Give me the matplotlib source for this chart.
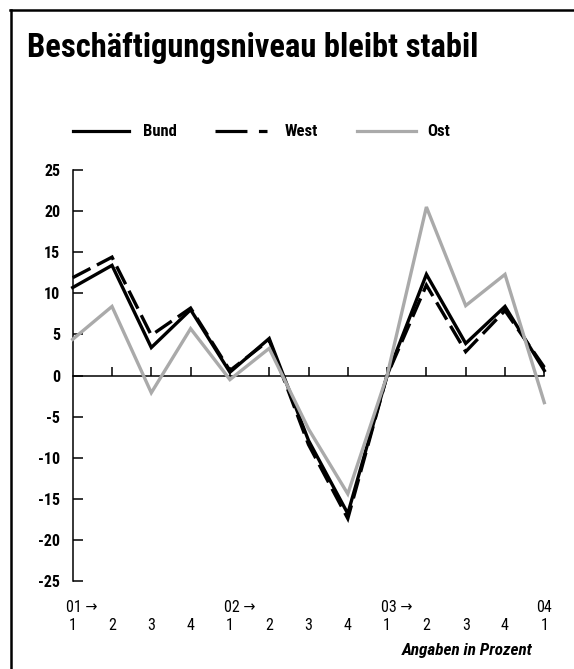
import matplotlib
matplotlib.use("Agg")
import matplotlib.pyplot as plt
import matplotlib.transforms as mtransforms
from matplotlib.lines import Line2D
from matplotlib import font_manager

# pick the narrowest installed sans family
installed = {f.name for f in font_manager.fontManager.ttflist}
family = 'Liberation Sans'
for cand in ['Liberation Sans Narrow', 'Roboto Condensed', 'DejaVu Sans Condensed',
             'Open Sans Condensed', 'Liberation Sans']:
    if cand in installed:
        family = cand
        break
plt.rcParams['font.family'] = [family, 'DejaVu Sans']
plt.rcParams['font.stretch'] = 'condensed'

# data (Veränderung in Prozent, Quartale 2001/1 - 2004/1)
quarters = ['1', '2', '3', '4', '1', '2', '3', '4', '1', '2', '3', '4', '1']
years = ['01 \u2192', '02 \u2192', '03 \u2192', '04']
year_pos = [0, 4, 8, 12]
bund = [10.7, 13.4, 3.4, 8.0, 0.4, 4.5, -7.9, -16.8, 0.0, 12.3, 3.9, 8.4, 0.6]
west = [11.9, 14.4, 4.9, 8.2, 0.6, 4.3, -8.4, -17.4, 0.0, 11.0, 2.9, 7.9, 1.0]
ost = [4.4, 8.4, -2.1, 5.7, -0.5, 3.3, -6.5, -14.4, 0.0, 20.5, 8.5, 12.3, -3.3]
yticks = [25, 20, 15, 10, 5, 0, -5, -10, -15, -20, -25]

W, H = 574, 669
fig = plt.figure(figsize=(W / 100, H / 100), dpi=100)

def fx(px):
    return px / W

def fy(py):
    return 1 - py / H

# frame
fig.add_artist(Line2D([fx(11), fx(11)], [fy(10), 0], color='black', lw=1.8))
fig.add_artist(Line2D([fx(10), 1], [fy(10), fy(10)], color='black', lw=1.8))

# title, sized to the reference width
title = fig.text(fx(27), fy(57), 'Beschäftigungsniveau bleibt stabil', fontsize=24,
                 fontweight='bold', va='baseline', ha='left')
fig.canvas.draw()
tw = title.get_window_extent().width
title.set_fontsize(min(27, 24 * 453 / tw))

# legend
ly = fy(131)
fig.add_artist(Line2D([fx(73), fx(129)], [ly, ly], color='black', lw=2.3))
fig.add_artist(Line2D([fx(215), fx(267)], [ly, ly], color='black', lw=2.3,
                      dashes=(10, 3.6)))
fig.add_artist(Line2D([fx(357), fx(416)], [ly, ly], color='#aaaaaa', lw=2.3))
for x, lab in [(143, 'Bund'), (285, 'West'), (427, 'Ost')]:
    fig.text(fx(x), ly, lab, fontsize=12, fontweight='bold', va='center', ha='left')

# axes
ax = fig.add_axes([fx(72.7), fy(581), fx(544.3) - fx(72.7), fy(170) - fy(581)])
ax.set_xlim(0, 12)
ax.set_ylim(-25, 25)
x = list(range(len(quarters)))
ax.plot(x, west, color='black', lw=2.4, dashes=(6, 2.2), dash_joinstyle='miter',
        clip_on=False, zorder=3)
ax.plot(x, bund, color='black', lw=2.4, solid_joinstyle='miter', clip_on=False, zorder=4)
ax.plot(x, ost, color='#aaaaaa', lw=2.4, solid_joinstyle='miter', clip_on=False, zorder=5)

for s in ['top', 'right']:
    ax.spines[s].set_visible(False)
ax.spines['bottom'].set_position(('data', 0))
ax.spines['left'].set_linewidth(1.1)
ax.spines['bottom'].set_linewidth(1.1)
ax.set_yticks(yticks)
ax.set_yticklabels([str(v) for v in yticks], fontsize=11.5, fontweight='bold')
ax.tick_params(axis='y', direction='in', length=7.5, width=1.1, pad=9)
ax.set_xticks(x[1:])
ax.set_xticklabels([])
ax.tick_params(axis='x', direction='in', length=6.5, width=1.1)

# x labels below the plot
trans = mtransforms.blended_transform_factory(ax.transData, fig.transFigure)
for i, q in enumerate(quarters):
    ax.text(i, fy(626), q, transform=trans, fontsize=11.5, ha='center', va='center')
for pos, lab in zip(year_pos, years):
    if pos == 12:
        ax.text(pos, fy(607), lab, transform=trans, fontsize=11.5, ha='center', va='center')
    else:
        ax.text(pos - 0.16, fy(607), lab, transform=trans, fontsize=11.5,
                ha='left', va='center')

fig.text(fx(532), fy(651), 'Angaben in Prozent', fontsize=12.3, fontweight='bold',
         fontstyle='italic', ha='right', va='center')

fig.savefig('out.png', dpi=100)
